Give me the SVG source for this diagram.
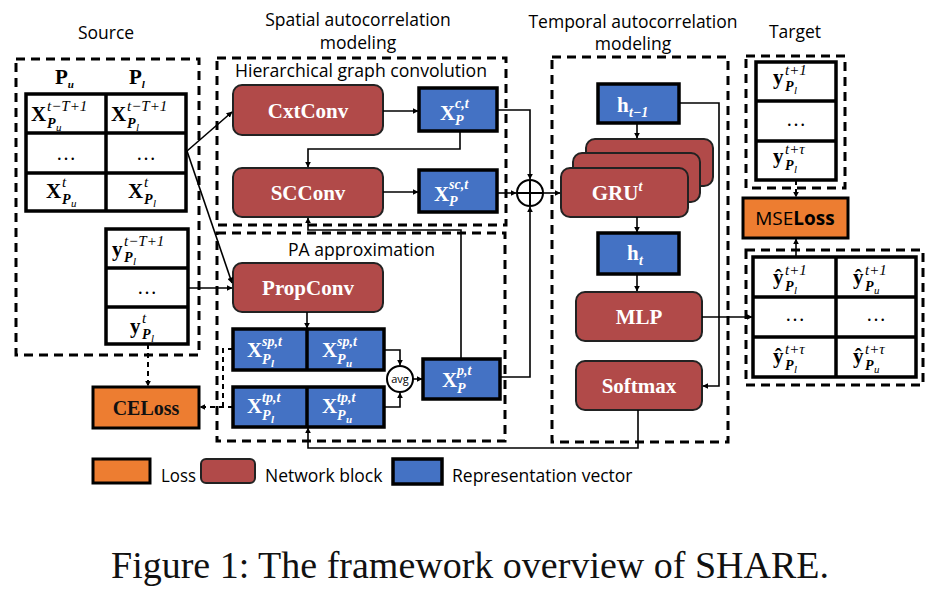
<svg xmlns="http://www.w3.org/2000/svg" width="935" height="591" viewBox="0 0 935 591">
<defs>
<marker id="ah" viewBox="0 0 10 10" refX="9" refY="5" markerWidth="6" markerHeight="6" orient="auto-start-reverse" markerUnits="userSpaceOnUse">
<path d="M0,0 L10,5 L0,10 z" fill="#000"/>
</marker>
<style>
.dbox{fill:none;stroke:#000;stroke-width:3;stroke-dasharray:9,6}
.tbl{fill:#fff;stroke:#000;stroke-width:3.5}
.tl{stroke:#000;stroke-width:3.5}
.red{fill:#B14A49;stroke:#222;stroke-width:2}
.blue{fill:#4472C4;stroke:#000;stroke-width:3.5}
.org{fill:#ED7D31;stroke:#000;stroke-width:3}
.con{fill:none;stroke:#000;stroke-width:1.6}
.dcon{fill:none;stroke:#000;stroke-width:2;stroke-dasharray:5,4}
.ttl{font-family:"Open Sans","Noto Sans",sans-serif;font-size:17.5px;font-weight:500;fill:#000;text-anchor:middle}
.lg{font-family:"Open Sans","Noto Sans",sans-serif;font-size:17.5px;font-weight:500;fill:#000}
.blk{font-family:"Liberation Serif","DejaVu Serif",serif;font-weight:bold;font-size:21px;fill:#fff;text-anchor:middle}
.mx{font-family:"Liberation Serif","DejaVu Serif",serif;font-weight:bold;font-size:21px}
.ms{font-family:"Liberation Serif","DejaVu Serif",serif;font-style:italic;font-size:15px}
.mp{font-family:"Liberation Serif","DejaVu Serif",serif;font-style:italic;font-weight:bold;font-size:14px}
.mq{font-family:"Liberation Serif","DejaVu Serif",serif;font-style:italic;font-size:11px}
.dots{font-family:"Liberation Serif",serif;font-size:20px;text-anchor:middle}
.w{fill:#fff}
.cap{font-family:"Liberation Serif","Times New Roman",serif;font-size:38px;fill:#111;text-anchor:middle}
</style>
</defs>

<!-- titles -->
<text class="ttl" x="106" y="39">Source</text>
<text class="ttl" x="358" y="26">Spatial autocorrelation</text>
<text class="ttl" x="358" y="49">modeling</text>
<text class="ttl" x="633" y="28">Temporal autocorrelation</text>
<text class="ttl" x="633" y="50">modeling</text>
<text class="ttl" x="795" y="38">Target</text>

<!-- dashed containers -->
<g id="source-box"><rect class="dbox" x="16" y="59" width="183" height="296"/></g>
<g id="hgc-box"><rect class="dbox" x="217" y="58" width="289" height="167"/>
<text class="lg" x="235" y="77" textLength="252" lengthAdjust="spacingAndGlyphs">Hierarchical graph convolution</text></g>
<g id="pa-box"><rect class="dbox" x="217" y="233" width="288" height="208"/>
<text class="lg" x="288" y="256" textLength="147" lengthAdjust="spacingAndGlyphs">PA approximation</text></g>
<g id="temporal-box"><rect class="dbox" x="552" y="57" width="176" height="385"/></g>
<g id="target-box"><rect class="dbox" x="746" y="56" width="99" height="132"/></g>
<g id="pred-box"><rect class="dbox" x="746" y="250" width="177" height="135"/></g>

<!-- source table X -->
<g id="source-x">
<text class="mx" x="55" y="84">P<tspan class="mq" font-size="15" dy="4">u</tspan></text>
<text class="mx" x="129" y="84">P<tspan class="mq" font-size="15" dy="4">l</tspan></text>
<rect class="tbl" x="26" y="94" width="160" height="117"/>
<line class="tl" x1="106" y1="94" x2="106" y2="211"/>
<line class="tl" x1="26" y1="133" x2="186" y2="133"/>
<line class="tl" x1="26" y1="173" x2="186" y2="173"/>
<text class="mx" x="31" y="121">X</text><text class="ms" x="47" y="111">t−T+1</text><text class="mp" x="47" y="128">P</text><text class="mq" x="56" y="131">u</text>
<text class="mx" x="111" y="121">X</text><text class="ms" x="127" y="111">t−T+1</text><text class="mp" x="127" y="128">P</text><text class="mq" x="136" y="131">l</text>
<text class="dots" x="66" y="160">…</text><text class="dots" x="146" y="160">…</text>
<text class="mx" x="46" y="198">X</text><text class="ms" x="62" y="187">t</text><text class="mp" x="62" y="204">P</text><text class="mq" x="71" y="207">u</text>
<text class="mx" x="128" y="198">X</text><text class="ms" x="144" y="187">t</text><text class="mp" x="144" y="204">P</text><text class="mq" x="153" y="207">l</text>
</g>

<!-- source table y -->
<g id="source-y">
<rect class="tbl" x="106" y="229" width="82" height="115"/>
<line class="tl" x1="106" y1="268" x2="188" y2="268"/>
<line class="tl" x1="106" y1="307" x2="188" y2="307"/>
<text class="mx" x="112" y="256">y</text><text class="ms" x="124" y="246">t−T+1</text><text class="mp" x="124" y="262">P</text><text class="mq" x="133" y="265">l</text>
<text class="dots" x="147" y="294">…</text>
<text class="mx" x="130" y="333">y</text><text class="ms" x="142" y="323">t</text><text class="mp" x="142" y="339">P</text><text class="mq" x="151" y="342">l</text>
</g>

<!-- network blocks -->
<g id="cxtconv"><rect class="red" x="233" y="85" width="150" height="50" rx="9"/><text class="blk" x="308" y="118">CxtConv</text></g>
<g id="scconv"><rect class="red" x="233" y="168" width="150" height="49" rx="9"/><text class="blk" x="308" y="200">SCConv</text></g>
<g id="propconv"><rect class="red" x="233" y="263" width="150" height="49" rx="9"/><text class="blk" x="308" y="295">PropConv</text></g>

<g id="x-c"><rect class="blue" x="419" y="88" width="78" height="43"/>
<text class="mx w" x="440" y="120" font-size="20">X</text><text class="mp w" x="455" y="108" font-size="16">c,t</text><text class="mp w" x="455" y="125">P</text></g>
<g id="x-sc"><rect class="blue" x="419" y="170" width="78" height="42"/>
<text class="mx w" x="434" y="201" font-size="20">X</text><text class="mp w" x="449" y="189" font-size="16">sc,t</text><text class="mp w" x="449" y="206">P</text></g>

<g id="x-sp"><rect class="blue" x="233" y="329" width="151" height="41"/>
<line class="tl" x1="307" y1="329" x2="307" y2="370"/>
<text class="mx w" x="247" y="357" font-size="20">X</text><text class="mp w" x="262" y="346" font-size="16">sp,t</text><text class="mp w" x="262" y="364">P</text><text class="mq w" x="271" y="367" font-weight="bold">l</text>
<text class="mx w" x="322" y="357" font-size="20">X</text><text class="mp w" x="337" y="346" font-size="16">sp,t</text><text class="mp w" x="337" y="364">P</text><text class="mq w" x="346" y="367" font-weight="bold">u</text></g>
<g id="x-tp"><rect class="blue" x="233" y="387" width="151" height="40"/>
<line class="tl" x1="307" y1="387" x2="307" y2="427"/>
<text class="mx w" x="247" y="413" font-size="20">X</text><text class="mp w" x="262" y="402" font-size="16">tp,t</text><text class="mp w" x="262" y="420">P</text><text class="mq w" x="271" y="423" font-weight="bold">l</text>
<text class="mx w" x="322" y="413" font-size="20">X</text><text class="mp w" x="337" y="402" font-size="16">tp,t</text><text class="mp w" x="337" y="420">P</text><text class="mq w" x="346" y="423" font-weight="bold">u</text></g>

<g id="avg"><circle cx="400" cy="379" r="13" fill="#fff" stroke="#000" stroke-width="2"/>
<text x="400" y="383" font-family="'Open Sans','Noto Sans',sans-serif" font-size="11" text-anchor="middle">avg</text></g>
<g id="x-p"><rect class="blue" x="423" y="359" width="77" height="40"/>
<text class="mx w" x="442" y="387" font-size="20">X</text><text class="mp w" x="457" y="375" font-size="16">p,t</text><text class="mp w" x="457" y="393">P</text></g>

<g id="oplus"><circle cx="530" cy="193" r="13" fill="#fff" stroke="#000" stroke-width="2"/>
<line x1="517" y1="193" x2="543" y2="193" stroke="#000" stroke-width="2"/><line x1="530" y1="180" x2="530" y2="206" stroke="#000" stroke-width="2"/></g>

<!-- temporal -->
<g id="h-prev"><rect class="blue" x="598" y="84" width="81" height="39"/>
<text class="mx w" x="617" y="112">h</text><text class="mp w" x="629" y="117" font-size="15">t−1</text></g>
<g id="gru">
<rect class="red" x="586" y="139" width="127" height="47" rx="9"/>
<rect class="red" x="573" y="153" width="127" height="49" rx="9"/>
<rect class="red" x="561" y="168" width="127" height="49" rx="9"/>
<text class="blk" x="617" y="200">GRU<tspan font-style="italic" font-size="14" dy="-9">t</tspan></text></g>
<g id="h-t"><rect class="blue" x="598" y="233" width="81" height="41"/>
<text class="mx w" x="627" y="260">h</text><text class="mp w" x="639" y="265" font-size="15">t</text></g>
<g id="mlp"><rect class="red" x="576" y="292" width="126" height="49" rx="9"/><text class="blk" x="639" y="324">MLP</text></g>
<g id="softmax"><rect class="red" x="576" y="361" width="126" height="49" rx="9"/><text class="blk" x="639" y="393">Softmax</text></g>

<!-- target -->
<g id="target-y">
<rect class="tbl" x="756" y="62" width="80" height="118"/>
<line class="tl" x1="756" y1="101" x2="836" y2="101"/>
<line class="tl" x1="756" y1="141" x2="836" y2="141"/>
<text class="mx" x="773" y="84">y</text><text class="ms" x="785" y="75">t+1</text><text class="mp" x="785" y="91">P</text><text class="mq" x="794" y="94">l</text>
<text class="dots" x="796" y="126">…</text>
<text class="mx" x="773" y="163">y</text><text class="ms" x="785" y="154">t+τ</text><text class="mp" x="785" y="170">P</text><text class="mq" x="794" y="173">l</text>
</g>
<g id="mseloss"><rect class="org" x="743" y="198" width="105" height="40"/>
<text x="795" y="225" font-family="'Open Sans','Noto Sans',sans-serif" font-size="19" font-weight="500" fill="#000" text-anchor="middle">MSE<tspan font-weight="bold">Loss</tspan></text></g>
<g id="pred-y">
<rect class="tbl" x="753" y="257" width="163" height="120"/>
<line class="tl" x1="836" y1="257" x2="836" y2="377"/>
<line class="tl" x1="753" y1="297" x2="916" y2="297"/>
<line class="tl" x1="753" y1="337" x2="916" y2="337"/>
<text class="mx" x="773" y="284">ŷ</text><text class="ms" x="785" y="275">t+1</text><text class="mp" x="785" y="291">P</text><text class="mq" x="794" y="294">l</text>
<text class="mx" x="853" y="284">ŷ</text><text class="ms" x="865" y="275">t+1</text><text class="mp" x="865" y="291">P</text><text class="mq" x="874" y="294">u</text>
<text class="dots" x="795" y="321">…</text><text class="dots" x="876" y="321">…</text>
<text class="mx" x="773" y="363">ŷ</text><text class="ms" x="785" y="354">t+τ</text><text class="mp" x="785" y="370">P</text><text class="mq" x="794" y="373">l</text>
<text class="mx" x="853" y="363">ŷ</text><text class="ms" x="865" y="354">t+τ</text><text class="mp" x="865" y="370">P</text><text class="mq" x="874" y="373">u</text>
</g>

<g id="celoss"><rect class="org" x="93" y="387" width="106" height="41"/>
<text x="146" y="415" font-family="'Liberation Serif',serif" font-weight="bold" font-size="20" fill="#111" text-anchor="middle">CELoss</text></g>

<!-- connectors -->
<g id="connectors">
<path class="con" d="M187,151 L232,112" marker-end="url(#ah)"/>
<path class="con" d="M187,151 L232,283" marker-end="url(#ah)"/>
<path class="con" d="M188,288 H232" marker-end="url(#ah)"/>
<path class="con" d="M383,111 H418" marker-end="url(#ah)"/>
<path class="con" d="M460,131 V149 H308 V167" marker-end="url(#ah)"/>
<path class="con" d="M383,192 H418" marker-end="url(#ah)"/>
<path class="con" d="M497,193 H516" marker-end="url(#ah)"/>
<path class="con" d="M497,110 H530 V179" marker-end="url(#ah)"/>
<path class="con" d="M500,377 H530 V207" marker-end="url(#ah)"/>
<path class="con" d="M543,193 H560" marker-end="url(#ah)"/>
<path class="con" d="M461,359 V230 H308 V218" marker-end="url(#ah)"/>
<path class="con" d="M307,312 V328" marker-end="url(#ah)"/>
<path class="con" d="M384,350 H400 V365" marker-end="url(#ah)"/>
<path class="con" d="M384,407 H400 V393" marker-end="url(#ah)"/>
<path class="con" d="M413,379 H422" marker-end="url(#ah)"/>
<path class="con" d="M637,123 V138" marker-end="url(#ah)"/>
<path class="con" d="M637,217 V232" marker-end="url(#ah)"/>
<path class="con" d="M637,274 V291" marker-end="url(#ah)"/>
<path class="con" d="M679,103 H719 V386 H703" marker-end="url(#ah)"/>
<path class="con" d="M702,317 H752" marker-end="url(#ah)"/>
<path class="con" d="M638,410 V448 H308 V428" marker-end="url(#ah)"/>
<path class="dcon" d="M148,344 V386" marker-end="url(#ah)"/>
<path class="dcon" d="M233,349 H223 V407"/>
<path class="dcon" d="M233,407 H200" marker-end="url(#ah)"/>
<path class="dcon" d="M796,180 V197" marker-end="url(#ah)"/>
<path class="con" d="M796,257 V239" marker-end="url(#ah)"/>
</g>

<!-- legend -->
<g id="legend">
<rect class="org" x="93" y="459" width="57" height="24"/>
<text class="lg" x="161" y="482" textLength="35" lengthAdjust="spacingAndGlyphs">Loss</text>
<rect class="red" x="201" y="459" width="54" height="24" rx="5"/>
<text class="lg" x="265" y="482">Network block</text>
<rect class="blue" x="393" y="459" width="49" height="25"/>
<text class="lg" x="452" y="482">Representation vector</text>
</g>

<text class="cap" x="470" y="578">Figure 1: The framework overview of SHARE.</text>
</svg>
